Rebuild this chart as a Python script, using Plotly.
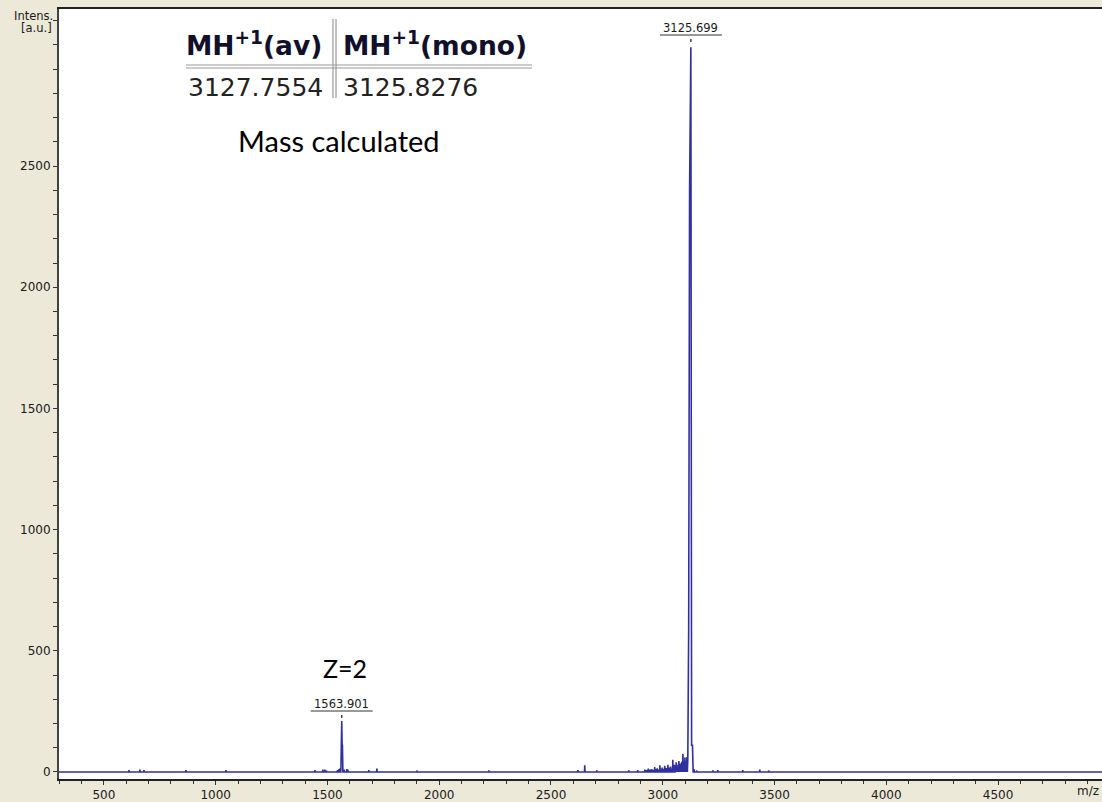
import plotly.graph_objects as go

# ---- spectrum data -------------------------------------------------------
# isolated noise spikes (m/z, intensity)
noise_mz = [612, 661, 679, 867, 1046, 1444, 1479, 1488, 1495, 1545, 1552, 1557,
            1575, 1587, 1591, 1685, 1721, 1900, 2222, 2620, 2651, 2705, 2848,
            2888, 2920, 2928, 2935, 2943, 2950, 2957, 2964, 2970, 2975, 2981,
            2987, 2992, 2998, 3004, 3009, 3016, 3023, 3029, 3035, 3040, 3045,
            3049, 3052, 3056, 3060, 3065, 3069, 3072, 3076, 3080, 3085, 3090,
            3094, 3099, 3104, 3108, 3140, 3152, 3224, 3246, 3358, 3434, 3474]
noise_int = [8, 10, 8, 8, 8, 8, 10, 10, 6, 8, 12, 15,
             10, 12, 10, 8, 14, 6, 6, 8, 28, 6, 6,
             8, 10, 8, 14, 10, 12, 9, 20, 12, 15, 10,
             28, 14, 18, 12, 25, 16, 30, 18, 22, 14, 50,
             22, 30, 24, 40, 25, 30, 45, 28, 35, 42, 75,
             40, 60, 45, 62, 12, 6, 6, 8, 8, 10, 6]

# profile of the doubly charged ion
z2_mz = [1560.0, 1563.901, 1565.5, 1567.0, 1569.0]
z2_int = [0, 210, 110, 110, 0]

# profile of the singly charged ion
mh_mz = [3110.0, 3112.0, 3116.0, 3120.0, 3125.699, 3129.0, 3133.0, 3136.0]
mh_int = [0, 50, 598, 2400, 2990, 110, 110, 0]

# labelled peaks
peak_labels = ["1563.901", "3125.699"]
peak_mz = [1563.901, 3125.699]

# axis range of the acquisition window
mz_start, mz_end = 299, 4965

# ---- assemble the profile trace ----------------------------------------
points = [(mz_start, 0), (mz_end, 0)]
for m, h in zip(noise_mz, noise_int):
    points += [(m - 1.2, 0), (m, h), (m + 1.2, 0)]
points += list(zip(z2_mz, z2_int))
points += list(zip(mh_mz, mh_int))
points.sort(key=lambda p: p[0])
xs = [p[0] for p in points]
ys = [p[1] for p in points]

# ---- geometry helpers (pixel -> paper) -----------------------------------
W, H = 1102, 802
L, R, T, B = 59, 0, 9, 23
PW, PH = W - L - R, H - T - B


def px(x):
    return (x - L) / PW


def py(y):
    return (H - B - y) / PH


BG = "#ECE9D8"
LINE = "#30309E"
TXT = "#1a1a1a"
TICKFONT = dict(family="DejaVu Sans, Tahoma, sans-serif", size=12, color=TXT)
SMALLFONT = dict(family="DejaVu Sans, Tahoma, sans-serif", size=11.5, color=TXT)

fig = go.Figure()
fig.add_trace(go.Scatter(x=xs, y=ys, mode="lines",
                         line=dict(color=LINE, width=1.6),
                         hoverinfo="skip", showlegend=False))

annotations = []
shapes = []

# peak labels with underline and marker dot
label_py = {"1563.901": 704, "3125.699": 28}
for lab, m in zip(peak_labels, peak_mz):
    ly = label_py[lab]
    annotations.append(dict(x=m, y=py(ly), xref="x", yref="paper",
                            text=lab, showarrow=False, xanchor="center",
                            yanchor="middle", font=SMALLFONT))
    shapes.append(dict(type="line", xref="x", yref="paper", xsizemode="pixel",
                       xanchor=m, x0=-31, x1=31, y0=py(ly + 7), y1=py(ly + 7),
                       line=dict(color="#333333", width=1)))
    shapes.append(dict(type="line", xref="x", yref="paper", xsizemode="pixel",
                       xanchor=m, x0=0, x1=0, y0=py(ly + 11), y1=py(ly + 14),
                       line=dict(color="#444444", width=1.5)))

# charge state note
annotations.append(dict(x=px(345), y=py(668), xref="paper", yref="paper",
                        text="Z=2", showarrow=False, xanchor="center",
                        yanchor="middle",
                        font=dict(family="Lato, Carlito, sans-serif", size=25,
                                  color="#000000")))

# calculated mass table
HDR = dict(family="DejaVu Sans, Verdana, sans-serif", size=26.5, color="#10102a")
VAL = dict(family="DejaVu Sans, Verdana, sans-serif", size=25, color="#222222")
annotations += [
    dict(x=px(184), y=py(44), xref="paper", yref="paper", showarrow=False,
         xanchor="left", yanchor="middle", font=HDR,
         text="<b>MH<sup>+1</sup>(av)</b>"),
    dict(x=px(341), y=py(44), xref="paper", yref="paper", showarrow=False,
         xanchor="left", yanchor="middle", font=HDR,
         text="<b>MH<sup>+1</sup>(mono)</b>"),
    dict(x=px(186), y=py(87), xref="paper", yref="paper", showarrow=False,
         xanchor="left", yanchor="middle", font=VAL, text="3127.7554"),
    dict(x=px(341), y=py(87), xref="paper", yref="paper", showarrow=False,
         xanchor="left", yanchor="middle", font=VAL, text="3125.8276"),
    dict(x=px(339), y=py(140), xref="paper", yref="paper", showarrow=False,
         xanchor="center", yanchor="middle", text="Mass calculated",
         font=dict(family="Lato, Carlito, sans-serif", size=29,
                   color="#000000")),
]
for yy in (65, 68):
    shapes.append(dict(type="line", xref="paper", yref="paper",
                       x0=px(186), x1=px(532), y0=py(yy), y1=py(yy),
                       line=dict(color="#9a9a9a", width=1.2)))
for xx in (333, 336):
    shapes.append(dict(type="line", xref="paper", yref="paper",
                       x0=px(xx), x1=px(xx), y0=py(19), y1=py(98),
                       line=dict(color="#9a9a9a", width=1.2)))

# axis captions
annotations += [
    dict(x=px(55), y=py(16), xref="paper", yref="paper", showarrow=False,
         xanchor="right", yanchor="middle", text="Intens.", font=SMALLFONT),
    dict(x=px(54), y=py(28), xref="paper", yref="paper", showarrow=False,
         xanchor="right", yanchor="middle", text="[a.u.]", font=SMALLFONT),
    dict(x=px(1101), y=py(791), xref="paper", yref="paper", showarrow=False,
         xanchor="right", yanchor="middle", text="m/z", font=TICKFONT),
]

fig.update_layout(
    width=W, height=H,
    margin=dict(l=L, r=R, t=T, b=B, pad=0),
    paper_bgcolor=BG, plot_bgcolor="#ffffff",
    showlegend=False,
    annotations=annotations,
    shapes=shapes,
    xaxis=dict(range=[mz_start, mz_end], showgrid=False, zeroline=False,
               showline=True, linecolor="#222222", linewidth=2, mirror=True,
               ticks="outside", ticklen=4, tickcolor="#333333", tickwidth=1,
               tickfont=TICKFONT,
               tickvals=[500, 1000, 1500, 2000, 2500, 3000, 3500, 4000, 4500],
               minor=dict(ticks="outside", ticklen=3, dtick=100, tick0=0,
                          tickcolor="#333333", showgrid=False)),
    yaxis=dict(range=[-29, 3148], showgrid=False, zeroline=False,
               showline=True, linecolor="#444444", linewidth=2,
               ticks="outside", ticklen=4, tickcolor="#333333", tickwidth=1,
               tickvals=[0, 500, 1000, 1500, 2000, 2500], tickfont=TICKFONT,
               minor=dict(ticks="outside", ticklen=4, dtick=100, tick0=0,
                          tickcolor="#333333", showgrid=False)),
)

fig.write_html("out.html")
